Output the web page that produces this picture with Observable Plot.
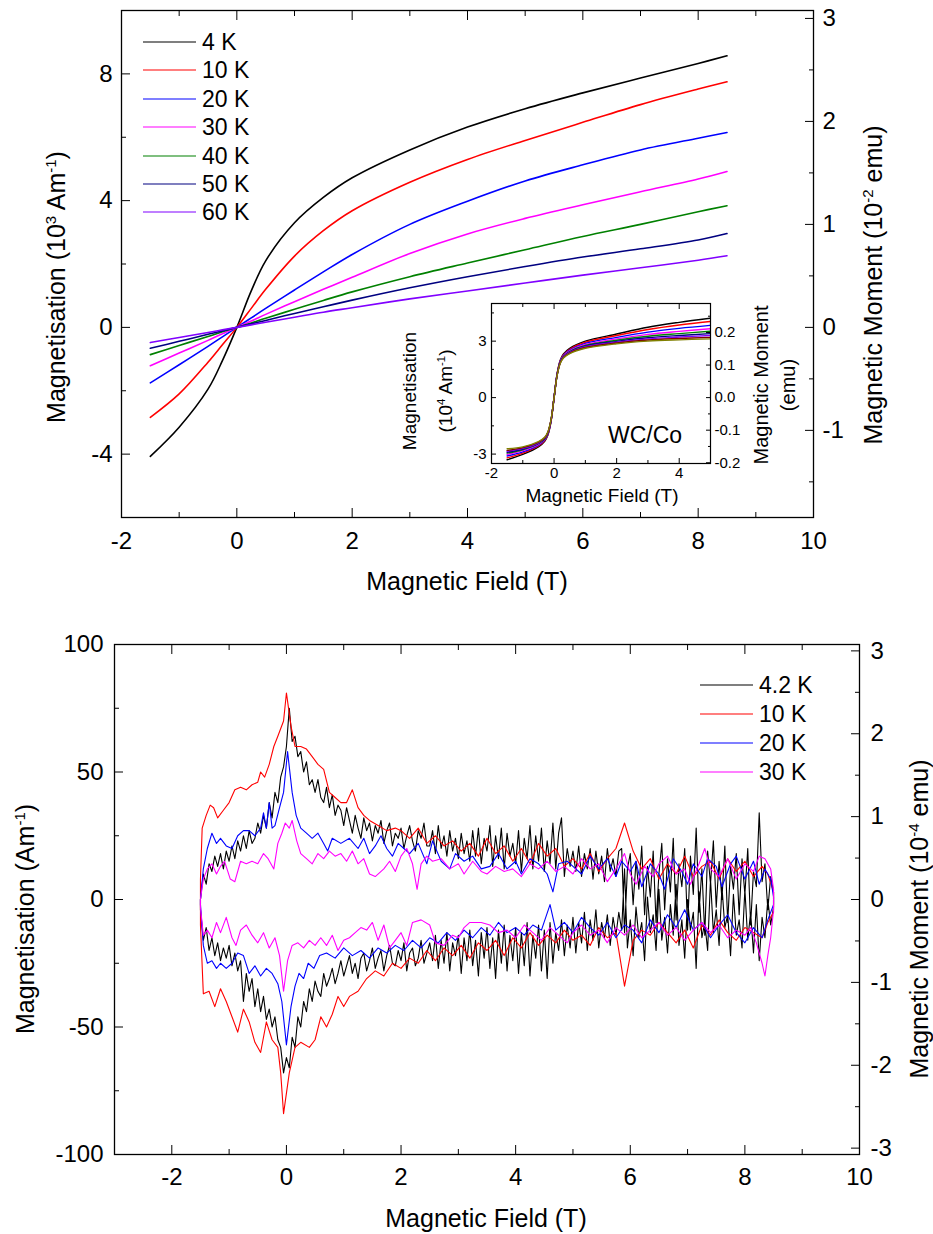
<!DOCTYPE html>
<html><head><meta charset="utf-8">
<script src="https://cdn.jsdelivr.net/npm/d3@7"></script>
<script src="https://cdn.jsdelivr.net/npm/@observablehq/plot@0.6"></script>
<style>
body{margin:0;background:#fff;}
#wrap{position:relative;width:933px;height:1234px;font-family:"Liberation Sans",Arial,sans-serif;color:#000;overflow:hidden;}
.lbl{position:absolute;white-space:nowrap;line-height:1.15;text-align:center;}
sup{font-size:0.6em;vertical-align:0.6em;line-height:0;}
.leg{position:absolute;white-space:nowrap;display:flex;align-items:center;}
.leg span.ln{display:inline-block;width:53px;margin-right:6px;}
</style>
</head><body><div id="wrap"></div>
<script>
// ---------------- DATA ----------------
// Top panel: M(H) curves, field in T, magnetisation in 10^3 A/m
const topField = [-1.5,-1,-0.5,-0.25,0,0.25,0.5,1,1.5,2,3,4,5,6,7,8,8.5];
const topTemps = ["4 K","10 K","20 K","30 K","40 K","50 K","60 K"];
const topColors = ["#000000","#ff0000","#0000ff","#ff00ff","#008000","#000080","#8000ff"];
const m4K  = [-4.07,-3.15,-1.95,-1.05,0,1.15,2.1,3.3,4.1,4.72,5.6,6.32,6.9,7.4,7.87,8.33,8.57];
const m10K = [-2.84,-2.1,-1.1,-0.55,0,0.6,1.2,2.25,3.05,3.68,4.58,5.3,5.9,6.47,7.03,7.52,7.75];
const m20K = [-1.75,-1.18,-0.6,-0.3,0,0.3,0.6,1.18,1.75,2.3,3.25,3.98,4.62,5.13,5.6,5.97,6.15];
const m30K = [-1.21,-0.81,-0.41,-0.2,0,0.2,0.41,0.81,1.2,1.58,2.33,2.95,3.44,3.87,4.28,4.68,4.92];
const m40K = [-0.86,-0.57,-0.29,-0.14,0,0.14,0.29,0.57,0.85,1.12,1.6,2.03,2.45,2.87,3.25,3.65,3.84];
const m50K = [-0.66,-0.44,-0.22,-0.11,0,0.11,0.22,0.44,0.65,0.86,1.25,1.6,1.92,2.22,2.48,2.76,2.96];
const m60K = [-0.48,-0.32,-0.16,-0.08,0,0.08,0.16,0.32,0.48,0.62,0.9,1.15,1.4,1.65,1.88,2.12,2.26];
const topSeries = [m4K,m10K,m20K,m30K,m40K,m50K,m60K];
const topXMajor = [-2,0,2,4,6,8,10];
const topXMinor = [-1,1,3,5,7,9];
const topYMajor = [-4,0,4,8];
const topYMinor = [-6,-2,2,6,10];
const topRMajor = [-1,0,1,2,3];        // 10^-2 emu
const topRMinor = [-1.5,-0.5,0.5,1.5,2.5];
const topRatio = 3.25;                  // 10^3 A/m per 10^-2 emu

// Inset: WC/Co loops, field in T, magnetisation in 10^4 A/m
const insetField = [-1.5,-1,-0.5,-0.3,-0.2,-0.1,0,0.1,0.2,0.3,0.5,1,2,3,4,5];
const insetColors = ["#000000","#ff0000","#0000ff","#ff00ff","#008000","#000080","#8000ff","#800000","#808000"];
const inBlack  = [-3.30,-3.02,-2.62,-2.32,-2.0,-1.3,0,1.3,2.0,2.32,2.62,3.0,3.38,3.74,4.0,4.22];
const inRed    = [-3.20,-2.95,-2.57,-2.28,-1.97,-1.28,0,1.28,1.97,2.28,2.57,2.94,3.3,3.62,3.86,4.05];
const inBlue   = [-3.10,-2.88,-2.52,-2.24,-1.94,-1.26,0,1.26,1.94,2.24,2.52,2.88,3.2,3.48,3.68,3.84];
const inMag    = [-3.02,-2.82,-2.48,-2.21,-1.92,-1.25,0,1.25,1.92,2.21,2.48,2.82,3.12,3.36,3.52,3.66];
const inGreen  = [-2.95,-2.77,-2.45,-2.19,-1.9,-1.24,0,1.24,1.9,2.19,2.45,2.77,3.05,3.26,3.4,3.53];
const inNavy   = [-2.90,-2.73,-2.42,-2.17,-1.88,-1.23,0,1.23,1.88,2.17,2.42,2.73,2.99,3.18,3.3,3.40];
const inPurple = [-2.85,-2.70,-2.40,-2.15,-1.87,-1.22,0,1.22,1.87,2.15,2.40,2.70,2.95,3.12,3.22,3.30];
const inWine   = [-2.80,-2.66,-2.37,-2.13,-1.85,-1.21,0,1.21,1.85,2.13,2.37,2.66,2.9,3.06,3.14,3.20];
const inOlive  = [-2.72,-2.62,-2.34,-2.11,-1.83,-1.2,0,1.2,1.83,2.11,2.34,2.62,2.86,3.0,3.07,3.12];
const insetSeries = [inBlack,inRed,inBlue,inMag,inGreen,inNavy,inPurple,inWine,inOlive];
const inXMajor = [-2,0,2,4];
const inXMinor = [-1,1,3,5];
const inYMajor = [-3,0,3];
const inYMinor = [-1.5,1.5,4.5];
const inRMajor = [-0.2,-0.1,0,0.1,0.2];  // emu
const inRMinor = [-0.15,-0.05,0.05,0.15,0.25];
const inRatio = 17.3;                     // 10^4 A/m per emu

// Bottom panel: loops, field in T, magnetisation in A/m
const botTemps = ["4.2 K","10 K","20 K","30 K"];
const botColors = ["#000000","#ff0000","#0000ff","#ff00ff"];
// 4.2 K measured on a regular 0.05 T grid from -1.5 T to 8.5 T
const bkField = d3.range(201).map(i => Math.round((-1.5 + i*0.05)*100)/100);
const bkUp = [0,10,6,14,11,17,13,18,12,19,
  15,21,16,23,19,25,20,27,22,24,
  30,26,33,28,38,32,42,38,48,52,
  60,75,62,64,56,58,50,54,45,47,
  42,47,40,38,44,36,41,33,37,35,
  29,36,31,26,33,28,24,32,27,30,
  23,29,26,31,22,27,30,21,26,24,
  28,20,25,29,23,19,27,24,30,21,
  21,27,18,29,20,25,17,27,19,24,
  16,26,18,23,15,27,17,28,14,24,
  19,29,13,25,16,28,12,26,17,22,
  14,27,11,24,16,29,12,25,15,28,
  11,23,14,30,12,26,32,9,20,13,
  19,11,21,9,18,12,20,8,19,10,
  17,7,20,11,16,9,19,20,-13,12,
  18,-2,15,4,21,-6,13,1,19,-9,
  10,22,-4,16,3,24,-8,14,5,20,
  -12,17,2,28,-5,12,-14,19,6,23,
  -3,15,0,21,-9,13,4,18,-6,16,
  2,20,-10,11,5,34,7,14,-4,9,
  3];
const bkLo = [-4,-16,-11,-20,-15,-22,-17,-24,-19,-23,
  -18,-26,-21,-28,-24,-40,-29,-36,-31,-42,
  -35,-44,-38,-47,-43,-50,-46,-55,-58,-68,
  -62,-66,-54,-58,-46,-50,-40,-44,-35,-40,
  -32,-36,-38,-29,-34,-31,-27,-33,-29,-24,
  -30,-26,-22,-29,-25,-31,-23,-21,-28,-24,
  -19,-27,-23,-20,-28,-22,-18,-25,-26,-20,
  -24,-17,-28,-21,-19,-26,-23,-16,-25,-21,
  -17,-24,-14,-27,-16,-25,-13,-28,-17,-22,
  -14,-29,-15,-24,-12,-26,-16,-30,-13,-23,
  -11,-27,-15,-31,-12,-25,-10,-28,-14,-24,
  -11,-29,-13,-26,-9,-30,-14,-23,-10,-28,
  -12,-31,-9,-25,-13,-20,-8,-22,-10,-19,
  -7,-21,-9,-17,-5,-20,-8,-16,-4,-19,
  -9,-15,-6,-18,-7,-14,-5,-12,12,-19,
  -8,-22,-3,-15,-9,-24,1,-13,-6,-20,
  4,-16,-7,-21,-2,-14,6,-18,-8,-23,
  0,-12,-5,-27,3,-15,-9,-20,8,-13,
  -4,-18,5,-11,-6,-22,2,-14,-8,-19,
  4,-16,-5,-21,-2,-24,-7,-15,0,-10,
  -3];
const redUp = [[-1.5,8],[-1.47,28],[-1.4,33],[-1.33,37],[-1.27,36],[-1.2,32],[-1.1,35],[-1.0,38],[-0.9,43],[-0.8,44],[-0.7,43],[-0.6,45],[-0.5,46],[-0.45,50],[-0.38,48],[-0.3,53],[-0.22,60],[-0.15,64],[-0.05,70],[0.0,81],[0.08,68],[0.15,60],[0.25,60],[0.35,59],[0.45,56],[0.55,53],[0.65,51],[0.75,42],[0.85,40],[0.95,38],[1.05,38],[1.15,43],[1.25,36],[1.35,33],[1.45,31],[1.6,29],[1.75,27],[1.9,28],[2.0,27],[2.15,24],[2.3,28],[2.45,22],[2.6,25],[2.75,21],[2.9,23],[3.05,19],[3.2,22],[3.35,17],[3.5,24],[3.65,18],[3.8,21],[3.95,15],[4.1,20],[4.25,14],[4.4,22],[4.55,17],[4.7,20],[4.85,13],[5.0,16],[5.15,12],[5.3,18],[5.45,11],[5.6,16],[5.75,20],[5.9,30],[6.05,19],[6.2,12],[6.35,16],[6.5,8],[6.65,14],[6.8,10],[6.95,17],[7.1,9],[7.25,13],[7.4,15],[7.55,8],[7.7,16],[7.85,11],[8.0,15],[8.15,9],[8.3,13],[8.4,10],[8.5,3]];
const redLo = [[-1.5,-10],[-1.45,-37],[-1.35,-36],[-1.25,-42],[-1.15,-35],[-1.05,-40],[-0.95,-46],[-0.85,-52],[-0.75,-43],[-0.65,-48],[-0.55,-56],[-0.45,-60],[-0.35,-48],[-0.25,-55],[-0.15,-58],[-0.1,-68],[-0.05,-84],[0.05,-68],[0.15,-58],[0.25,-56],[0.4,-58],[0.5,-55],[0.6,-46],[0.7,-50],[0.8,-45],[0.9,-38],[1.0,-42],[1.1,-38],[1.25,-36],[1.4,-31],[1.55,-28],[1.7,-30],[1.85,-25],[2.0,-27],[2.15,-23],[2.3,-25],[2.45,-20],[2.6,-24],[2.75,-19],[2.9,-22],[3.05,-18],[3.2,-23],[3.35,-17],[3.5,-20],[3.65,-16],[3.8,-22],[3.95,-15],[4.1,-19],[4.25,-13],[4.4,-18],[4.55,-14],[4.7,-17],[4.85,-12],[5.0,-16],[5.15,-14],[5.3,-18],[5.45,-11],[5.6,-15],[5.75,-13],[5.9,-34],[6.05,-16],[6.2,-12],[6.35,-14],[6.5,-9],[6.65,-13],[6.8,-17],[6.95,-12],[7.1,-19],[7.25,-10],[7.4,-14],[7.55,-8],[7.7,-13],[7.85,-16],[8.0,-11],[8.15,-13],[8.3,-15],[8.4,-9],[8.5,-5]];
const blueUp = [[-1.5,0],[-1.45,12],[-1.38,20],[-1.3,26],[-1.22,22],[-1.15,24],[-1.05,21],[-0.95,20],[-0.85,25],[-0.75,27],[-0.65,27],[-0.55,25],[-0.45,28],[-0.4,34],[-0.35,28],[-0.3,38],[-0.25,28],[-0.2,29],[-0.12,36],[-0.05,42],[0.02,58],[0.1,42],[0.17,33],[0.25,28],[0.35,26],[0.45,24],[0.55,26],[0.65,22],[0.72,19],[0.8,24],[0.95,22],[1.1,24],[1.25,20],[1.35,24],[1.45,18],[1.55,21],[1.65,25],[1.75,20],[1.85,17],[1.95,22],[2.05,20],[2.15,18],[2.3,22],[2.45,14],[2.55,23],[2.7,15],[2.85,12],[2.95,18],[3.1,15],[3.25,17],[3.4,12],[3.55,13],[3.7,18],[3.85,12],[4.0,15],[4.1,10],[4.25,16],[4.4,14],[4.55,10],[4.65,3],[4.75,14],[4.9,15],[5.0,13],[5.15,10],[5.3,17],[5.45,12],[5.6,16],[5.75,9],[5.85,15],[6.0,11],[6.1,15],[6.2,5],[6.35,14],[6.5,10],[6.6,4],[6.75,16],[6.9,11],[7.0,6],[7.1,14],[7.25,9],[7.35,16],[7.5,13],[7.6,5],[7.75,14],[7.85,17],[8.0,8],[8.15,15],[8.25,6],[8.35,12],[8.45,8],[8.5,1]];
const blueLo = [[-1.5,-2],[-1.45,-18],[-1.38,-25],[-1.3,-24],[-1.22,-27],[-1.15,-25],[-1.05,-27],[-0.95,-25],[-0.85,-21],[-0.75,-22],[-0.65,-29],[-0.55,-26],[-0.45,-30],[-0.35,-27],[-0.25,-29],[-0.15,-33],[-0.08,-40],[0.0,-57],[0.08,-42],[0.15,-34],[0.22,-29],[0.3,-31],[0.38,-25],[0.48,-27],[0.58,-22],[0.7,-21],[0.85,-23],[1.0,-19],[1.15,-22],[1.3,-20],[1.45,-23],[1.6,-19],[1.75,-21],[1.9,-18],[2.05,-20],[2.2,-16],[2.35,-19],[2.5,-15],[2.65,-17],[2.8,-13],[2.95,-16],[3.1,-12],[3.25,-15],[3.4,-11],[3.55,-14],[3.7,-9],[3.85,-13],[4.0,-11],[4.15,-14],[4.3,-10],[4.45,-12],[4.6,-2],[4.7,-12],[4.85,-9],[5.0,-13],[5.15,-7],[5.3,-11],[5.45,-14],[5.6,-9],[5.75,-15],[5.9,-10],[6.05,-12],[6.2,-17],[6.35,-8],[6.5,-13],[6.65,-6],[6.8,-11],[6.95,-4],[7.1,-12],[7.25,-9],[7.4,-15],[7.55,-10],[7.7,-6],[7.85,-13],[8.0,-17],[8.15,-11],[8.3,-15],[8.4,-8],[8.5,-2]];
const magUp = [[-1.5,0],[-1.45,8],[-1.38,12],[-1.3,14],[-1.22,10],[-1.15,13],[-1.08,15],[-0.98,8],[-0.9,7],[-0.8,15],[-0.7,14],[-0.6,15],[-0.5,14],[-0.4,18],[-0.32,16],[-0.22,12],[-0.15,22],[-0.08,26],[-0.02,30],[0.05,28],[0.1,31],[0.18,23],[0.25,18],[0.35,16],[0.45,14],[0.55,18],[0.65,16],[0.75,19],[0.85,17],[0.95,18],[1.05,15],[1.15,19],[1.25,14],[1.35,16],[1.45,10],[1.55,9],[1.7,12],[1.8,15],[1.9,11],[2.0,17],[2.1,20],[2.2,14],[2.28,4],[2.35,14],[2.45,17],[2.55,15],[2.7,16],[2.85,12],[3.0,14],[3.1,10],[3.25,15],[3.4,11],[3.5,10],[3.65,13],[3.8,11],[3.95,12],[4.1,9],[4.25,14],[4.4,12],[4.55,15],[4.7,11],[4.85,13],[5.0,10],[5.15,16],[5.3,12],[5.45,14],[5.6,7],[5.75,12],[5.9,18],[6.0,10],[6.1,6],[6.25,13],[6.4,9],[6.5,14],[6.65,17],[6.8,10],[6.95,12],[7.05,6],[7.2,14],[7.3,20],[7.4,12],[7.55,9],[7.7,16],[7.85,8],[8.0,14],[8.15,11],[8.25,17],[8.35,16],[8.45,12],[8.5,4]];
const magLo = [[-1.5,-3],[-1.45,-14],[-1.38,-12],[-1.3,-15],[-1.22,-9],[-1.15,-13],[-1.05,-7],[-0.95,-15],[-0.88,-18],[-0.8,-12],[-0.7,-10],[-0.6,-14],[-0.5,-17],[-0.4,-13],[-0.3,-19],[-0.2,-15],[-0.12,-22],[-0.05,-36],[0.02,-24],[0.1,-18],[0.2,-17],[0.3,-19],[0.4,-16],[0.5,-18],[0.6,-15],[0.7,-18],[0.8,-14],[0.9,-20],[1.0,-16],[1.1,-15],[1.2,-13],[1.3,-11],[1.4,-12],[1.5,-9],[1.6,-16],[1.7,-10],[1.8,-19],[1.9,-16],[2.0,-13],[2.1,-18],[2.2,-9],[2.35,-8],[2.5,-10],[2.6,-17],[2.75,-18],[2.9,-14],[3.0,-15],[3.1,-11],[3.2,-9],[3.4,-9],[3.55,-10],[3.7,-13],[3.85,-12],[4.0,-15],[4.15,-10],[4.3,-13],[4.45,-16],[4.6,-11],[4.75,-14],[4.9,-17],[5.0,-13],[5.15,-10],[5.3,-14],[5.45,-12],[5.6,-17],[5.75,-11],[5.9,-14],[6.05,-10],[6.2,-15],[6.35,-12],[6.5,-9],[6.65,-14],[6.8,-11],[6.95,-16],[7.1,-12],[7.25,-9],[7.4,-13],[7.55,-10],[7.7,-15],[7.85,-12],[8.0,-14],[8.1,-11],[8.2,-17],[8.3,-25],[8.35,-30],[8.4,-22],[8.45,-15],[8.5,-4]];
const botXMajor = [-2,0,2,4,6,8,10];
const botXMinor = [-3,-1,1,3,5,7,9];
const botYMajor = [-100,-50,0,50,100];
const botYMinor = [-75,-25,25,75];
const botRMajor = [-3,-2,-1,0,1,2,3];  // 10^-4 emu
const botRMinor = [-2.5,-1.5,-0.5,0.5,1.5,2.5];
const botRatio = 32.5;                  // A/m per 10^-4 emu

// ---------------- DRAWING ----------------
const FONT = '"Liberation Sans", Arial, sans-serif';
const wrap = document.getElementById("wrap");
const fmt = d => String(d);

function frameAxes(o) {
  const rf = d => {
    const v = Math.round(d / o.ratio * 1000) / 1000;
    return o.rDigits ? (Math.abs(v) < 1e-9 ? 0 : v).toFixed(o.rDigits) : String(Math.round(v * 100) / 100);
  };
  const t = {fill: "none", label: null, strokeWidth: 1};
  return [
    Plot.axisX(o.xMaj, {...t, anchor: "bottom", tickSize: -o.maj}),
    Plot.axisX(o.xMin, {...t, anchor: "bottom", tickSize: -o.min}),
    Plot.axisX(o.xMaj, {...t, anchor: "top", tickSize: -o.maj}),
    Plot.axisX(o.xMin, {...t, anchor: "top", tickSize: -o.min}),
    Plot.axisY(o.yMaj, {...t, anchor: "left", tickSize: -o.maj}),
    Plot.axisY(o.yMin, {...t, anchor: "left", tickSize: -o.min}),
    Plot.axisY(o.rMaj.map(v => v * o.ratio), {...t, anchor: "right", tickSize: -o.maj}),
    Plot.axisY(o.rMin.map(v => v * o.ratio), {...t, anchor: "right", tickSize: -o.min}),
    Plot.axisX(o.xMaj, {anchor: "bottom", tickSize: 0, tickPadding: o.padB, label: null, tickFormat: fmt, fontSize: o.fs}),
    Plot.axisY(o.yMaj, {anchor: "left", tickSize: 0, tickPadding: o.padL, label: null, tickFormat: fmt, fontSize: o.fs}),
    Plot.axisY(o.rMaj.map(v => v * o.ratio), {anchor: "right", tickSize: 0, tickPadding: o.padR, label: null, tickFormat: rf, fontSize: o.fs})
  ];
}
function place(svg, left, top) {
  svg.style.position = "absolute";
  svg.style.left = left + "px";
  svg.style.top = top + "px";
  wrap.appendChild(svg);
}
function label(html, cx, cy, size, rot, lh) {
  const d = document.createElement("div");
  d.className = "lbl";
  d.innerHTML = html;
  d.style.left = cx + "px";
  d.style.top = cy + "px";
  d.style.fontSize = size + "px";
  if (lh) d.style.lineHeight = lh + "px";
  d.style.transform = "translate(-50%,-50%)" + (rot ? " rotate(-90deg)" : "");
  wrap.appendChild(d);
}
function legend(names, colors, x, y0, step, size, lw) {
  names.forEach((n, i) => {
    const d = document.createElement("div");
    d.className = "leg";
    d.style.left = x + "px";
    d.style.top = (y0 + i * step) + "px";
    d.style.fontSize = size + "px";
    d.style.transform = "translateY(-50%)";
    d.innerHTML = `<span class="ln" style="border-top:${lw}px solid ${colors[i]}"></span><span>${n}</span>`;
    wrap.appendChild(d);
  });
}

// ---- Top main panel ----
const topData = topTemps.flatMap((t, i) => topField.map((x, j) => ({t, x, m: topSeries[i][j]})));
const topPlot = Plot.plot({
  width: 933, height: 600,
  marginLeft: 121, marginRight: 120, marginTop: 10, marginBottom: 83,
  style: {fontFamily: FONT, fontSize: "24px", background: "transparent", overflow: "visible", color: "#000"},
  x: {domain: [-2, 10]},
  y: {domain: [-6, 10]},
  color: {domain: topTemps, range: topColors},
  marks: [
    Plot.line(topData, {x: "x", y: "m", z: "t", stroke: "t", strokeWidth: 1.6, curve: "catmull-rom"}),
    Plot.frame({stroke: "#000", strokeWidth: 1.3}),
    ...frameAxes({xMaj: topXMajor, xMin: topXMinor, yMaj: topYMajor, yMin: topYMinor,
      rMaj: topRMajor, rMin: topRMinor, ratio: topRatio, maj: 9, min: 5, fs: 24, padB: 14, padL: 9, padR: 9})
  ]
});
place(topPlot, 0, 0);

// ---- Inset ----
const insetData = insetSeries.flatMap((s, i) => insetField.map((x, j) => ({k: insetColors[i], x, m: s[j]})));
const insetPlot = Plot.plot({
  width: 340, height: 230,
  marginLeft: 91, marginRight: 30, marginTop: 13, marginBottom: 57,
  style: {fontFamily: FONT, fontSize: "15px", background: "transparent", overflow: "visible", color: "#000"},
  x: {domain: [-2, 5]},
  y: {domain: [-3.5, 5]},
  marks: [
    Plot.line(insetData, {x: "x", y: "m", z: "k", stroke: d => d.k, strokeWidth: 1.4, curve: "catmull-rom", clip: true}),
    Plot.frame({stroke: "#000", strokeWidth: 1.2}),
    ...frameAxes({xMaj: inXMajor, xMin: inXMinor, yMaj: inYMajor, yMin: inYMinor,
      rMaj: inRMajor, rMin: inRMinor, ratio: inRatio, maj: 5, min: 3, fs: 15, padB: 4, padL: 5, padR: 4, rDigits: 1})
  ]
});
place(insetPlot, 400, 290);

// ---- Bottom panel ----
const bkUpPts = bkField.map((x, j) => [x, bkUp[j]]);
const bkLoPts = bkField.map((x, j) => [x, bkLo[j]]);
const loops = [[bkUpPts, bkLoPts], [redUp, redLo], [blueUp, blueLo], [magUp, magLo]];
const botData = loops.flatMap(([up, lo], i) =>
  up.concat(lo.slice().reverse()).map(([x, m]) => ({t: botTemps[i], x, m})));
const botPlot = Plot.plot({
  width: 933, height: 614,
  marginLeft: 114, marginRight: 74, marginTop: 24, marginBottom: 80,
  style: {fontFamily: FONT, fontSize: "24px", background: "transparent", overflow: "visible", color: "#000"},
  x: {domain: [-3, 10]},
  y: {domain: [-100, 100]},
  color: {domain: botTemps, range: botColors},
  marks: [
    Plot.line(botData, {x: "x", y: "m", z: "t", stroke: "t", strokeWidth: 1.1, curve: "linear-closed"}),
    Plot.frame({stroke: "#000", strokeWidth: 1.3}),
    ...frameAxes({xMaj: botXMajor, xMin: botXMinor, yMaj: botYMajor, yMin: botYMinor,
      rMaj: botRMajor, rMin: botRMinor, ratio: botRatio, maj: 9, min: 5, fs: 24, padB: 13, padL: 11, padR: 11})
  ]
});
place(botPlot, 0, 620);

// ---- Texts & legends ----
label("Magnetic Field (T)", 467, 581, 25);
label("Magnetisation (10<sup>3</sup> Am<sup>-1</sup>)", 56, 287, 25, true);
label("Magnetic Moment (10<sup>-2</sup> emu)", 873, 285, 25, true);
label("Magnetic Field (T)", 602, 496, 19);
label("Magnetisation<br>(10<sup>4</sup> Am<sup>-1</sup>)", 428, 391, 19, true, 36);
label("Magnetic Moment<br>(emu)", 775, 385, 20, true, 27);
label("WC/Co", 645, 435, 23);
label("Magnetic Field (T)", 486, 1218, 25);
label("Magnetisation (Am<sup>-1</sup>)", 25, 919, 25, true);
label("Magnetic Moment (10<sup>-4</sup> emu)", 919, 919, 25, true);
legend(topTemps, topColors, 143, 42, 28.4, 23, 1.5);
legend(botTemps, botColors, 700, 685, 29, 23, 1.2);
</script>
</body></html>
